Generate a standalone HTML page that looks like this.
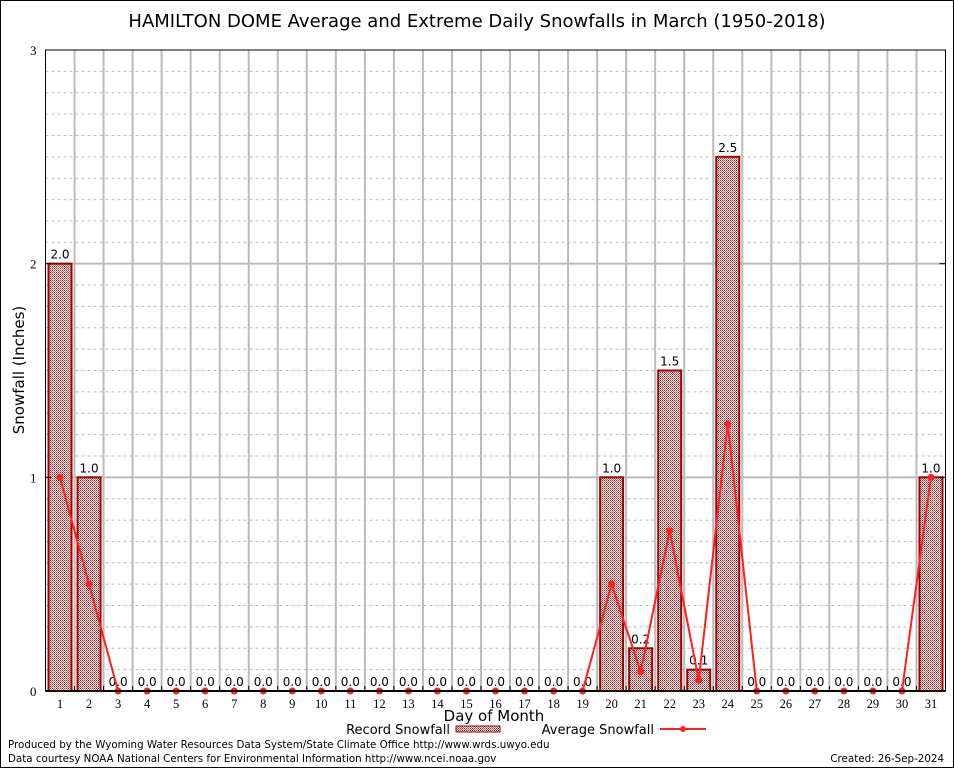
<!DOCTYPE html>
<html><head><meta charset="utf-8"><style>
body{margin:0;background:#fff;}
svg{display:block;font-family:"DejaVu Sans","Liberation Sans",sans-serif;}
</style></head><body>
<svg id="chart" width="954" height="768" viewBox="0 0 954 768">
<defs>
<pattern id="chk" width="2" height="2" patternUnits="userSpaceOnUse">
<rect width="2" height="2" fill="#fff"/><rect width="1" height="1" fill="#b81818"/><rect x="1" y="1" width="1" height="1" fill="#d86060"/>
</pattern>
</defs>
<rect x="0.5" y="0.5" width="953" height="767" fill="#fff" stroke="#000"/>
<text x="477" y="27" text-anchor="middle" font-size="18">HAMILTON DOME Average and Extreme Daily Snowfalls in March (1950-2018)</text>
<g id="grid"></g>
<g id="bars"></g>
<g id="line"></g>
<g id="axes"></g>
<text x="24" y="370" text-anchor="middle" font-size="15" transform="rotate(-90 24 370)">Snowfall (Inches)</text>
<text x="494" y="721" text-anchor="middle" font-size="15">Day of Month</text>
<g>
<text x="450" y="734" text-anchor="end" font-size="13">Record Snowfall</text>
<rect x="456" y="726" width="44" height="6" fill="url(#chk)" stroke="#a00000"/>
<text x="654" y="734" text-anchor="end" font-size="13">Average Snowfall</text>
<line x1="660" y1="729" x2="706" y2="729" stroke="#ff2020" stroke-width="2"/>
<circle cx="683" cy="729" r="3" fill="#ff2020"/>
</g>
<text x="8" y="748" font-size="10.3">Produced by the Wyoming Water Resources Data System/State Climate Office http://www.wrds.uwyo.edu</text>
<text x="8" y="762" font-size="10.3">Data courtesy NOAA National Centers for Environmental Information http://www.ncei.noaa.gov</text>
<text x="944" y="762" text-anchor="end" font-size="10.3">Created: 26-Sep-2024</text>
</svg>
<script>
const days = [1,2,3,4,5,6,7,8,9,10,11,12,13,14,15,16,17,18,19,20,21,22,23,24,25,26,27,28,29,30,31];
const recordSnow = [2.0,1.0,0,0,0,0,0,0,0,0,0,0,0,0,0,0,0,0,0,1.0,0.2,1.5,0.1,2.5,0,0,0,0,0,0,1.0];
const averageSnow = [1.0,0.5,0,0,0,0,0,0,0,0,0,0,0,0,0,0,0,0,0,0.5,0.09,0.75,0.05,1.25,0,0,0,0,0,0,1.0];
const yTicks = [0,1,2,3];

const NS="http://www.w3.org/2000/svg";
const L=45.5,R=945.5,T=50,B=691,yMax=3;
const slot=(R-L)/days.length;
const xC=d=>L+(d-0.5)*slot;
const yS=v=>B-(v/yMax)*(B-T);
function mk(tag,attrs,parent){const e=document.createElementNS(NS,tag);for(const k in attrs)e.setAttribute(k,attrs[k]);parent.appendChild(e);return e;}
const grid=document.getElementById('grid'),bars=document.getElementById('bars'),line=document.getElementById('line'),axes=document.getElementById('axes');

for(let i=1;i<yMax*10;i++){if(i%10===0)continue;
 const g=mk('line',{x1:L,x2:R,y1:yS(i/10),y2:yS(i/10),stroke:'#bbb','stroke-dasharray':'3,3'},grid);
 
 }
for(let i=1;i<days.length;i++){
 const g=mk('line',{x1:L+i*slot,x2:L+i*slot,y1:T,y2:B,stroke:'#bbb','stroke-width':2},grid);
 
 }
yTicks.forEach(t=>{
 if(t>0&&t<yMax){const g=mk('line',{x1:L,x2:R,y1:yS(t),y2:yS(t),stroke:'#bbb','stroke-width':2},grid);
 
 }
 const tx=mk('text',{x:L-9,y:yS(t)+5,'text-anchor':'end','font-size':13,'font-family':'Liberation Serif,serif'},axes);tx.textContent=t;
 
 
 mk('line',{x1:L,x2:L+6,y1:yS(t),y2:yS(t),stroke:'#000'},axes);
 mk('line',{x1:R-6,x2:R,y1:yS(t),y2:yS(t),stroke:'#000'},axes);
});
days.forEach((d,i)=>{
 const v=recordSnow[i];
 if(v>0){const r=mk('rect',{x:xC(d)-11.5,y:yS(v),width:23,height:B-yS(v),fill:'url(#chk)',stroke:'#a00000','stroke-width':2},bars);
 
 }
 const lb=mk('text',{x:xC(d),y:yS(v)-5,'text-anchor':'middle','font-size':12},bars);lb.textContent=v.toFixed(1);
 
 
 const xt=mk('text',{x:xC(d),y:B+17,'text-anchor':'middle','font-size':12.5,'font-family':'Liberation Serif,serif'},axes);xt.textContent=d;
 
 
 mk('line',{x1:L+(i+1)*slot,x2:L+(i+1)*slot,y1:B,y2:B-5,stroke:'#000'},axes);
});
const pl=mk('polyline',{points:days.map((d,i)=>xC(d)+','+yS(averageSnow[i])).join(' '),fill:'none',stroke:'#ff2020','stroke-width':2},line);


days.forEach((d,i)=>{const c=mk('circle',{cx:xC(d),cy:yS(averageSnow[i]),r:3.5,fill:'#ff2020'},line);
 
 });
const fr=mk('rect',{x:L,y:T,width:R-L,height:B-T,fill:'none',stroke:'#000','stroke-width':1},axes);


const xa=mk('line',{x1:L,x2:R,y1:B,y2:B,stroke:'#000','stroke-width':2},axes);


</script>
</body></html>
